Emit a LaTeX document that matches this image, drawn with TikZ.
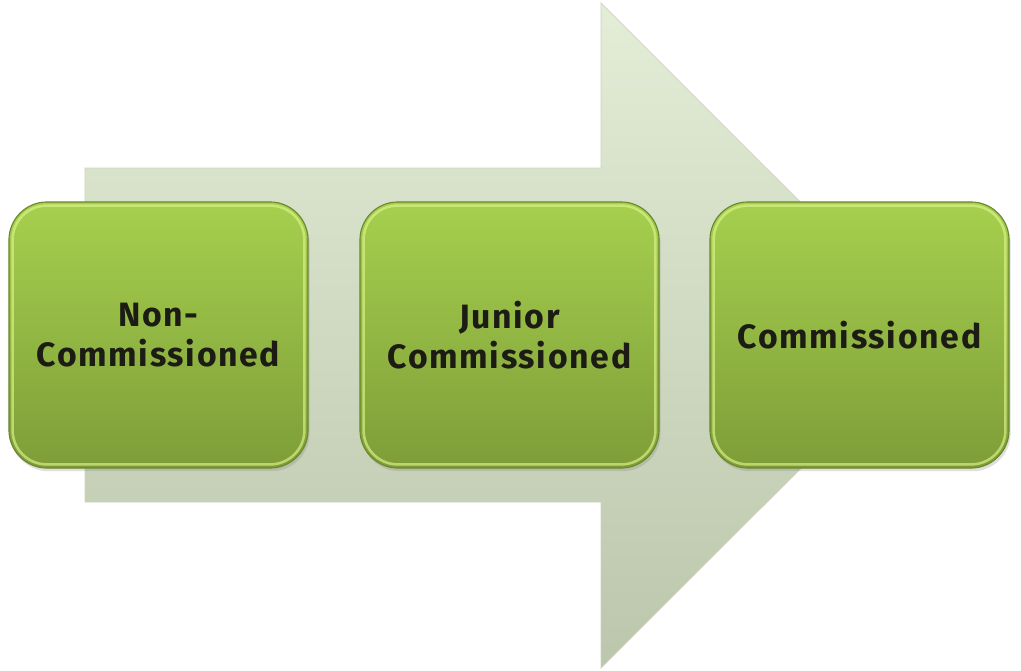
\documentclass[tikz,border=0pt]{standalone}
\usepackage{fontspec}
\setmainfont{Fira Sans}
\usetikzlibrary{shadows}
\definecolor{arrowTop}{HTML}{E3EDD7}
\definecolor{arrowBot}{HTML}{BCC6AC}
\definecolor{arrowEdge}{HTML}{C9D5BC}
\definecolor{rankTop}{HTML}{A6D04E}
\definecolor{rankBot}{HTML}{7E9D38}
\definecolor{rankEdge}{HTML}{6A882C}
\definecolor{rankGlow}{HTML}{DDF58A}
\definecolor{rankText}{HTML}{1C1C14}
\tikzset{
  rank/.style={rectangle, rounded corners=0.95cm, minimum width=7.475cm,
    minimum height=6.65cm, top color=rankTop, bottom color=rankBot,
    draw=rankEdge, line width=0.8pt, align=center, text=rankText,
    font=\bfseries\fontsize{24}{28.5}\selectfont\addfontfeature{LetterSpace=5},
    drop shadow={opacity=0.25, shadow xshift=0.04cm, shadow yshift=-0.08cm}},
  glow/.style={draw=rankGlow, line width=1.8pt, draw opacity=0.65,
    rounded corners=0.85cm}
}
\begin{document}
\begin{tikzpicture}[x=0.025cm, y=-0.025cm]
      \useasboundingbox (0,0) rectangle (1021,671);
      % big arrow behind the ranks
      \draw[draw=arrowEdge, line width=0.5pt, top color=arrowTop, bottom color=arrowBot]
        (85,168) -- (601,168) -- (601,3) -- (934,335.5) -- (601,668)
        -- (601,502) -- (85,502) -- cycle;
      \draw
        (158.5,335) node[rank] (0){Non-\\Commissioned}
        (509.5,335) node[rank] (1){Junior\\Commissioned}
        (859.5,335) node[rank] (2){Commissioned};
      \foreach \n in {0,1,2}
        \draw[glow] ([shift={(3pt,3pt)}]\n.south west)
          rectangle ([shift={(-3pt,-3pt)}]\n.north east);
    \end{tikzpicture}
\end{document}
